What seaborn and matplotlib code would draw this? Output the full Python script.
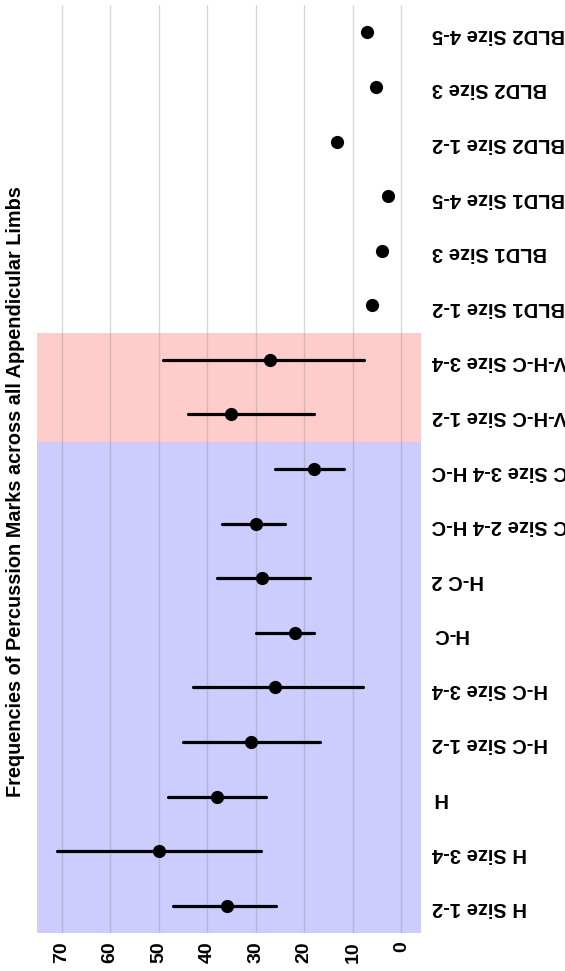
import numpy as np
import pandas as pd
import seaborn as sns
import matplotlib.pyplot as plt

# categories from bottom to top of the chart
categories = ["H Size 1-2", "H Size 3-4", "H", "H-C Size 1-2", "H-C Size 3-4",
              "H-C", "H-C 2", "V-H-C Size 2-4 H-C", "V-H-C Size 3-4 H-C",
              "V-H-C Size 1-2", "V-H-C Size 3-4",
              "BLD1 Size 1-2", "BLD1 Size 3", "BLD1 Size 4-5",
              "BLD2 Size 1-2", "BLD2 Size 3", "BLD2 Size 4-5"]
freq = [36.0, 50.0, 38.0, 31.0, 26.0, 22.0, 28.6, 30.0, 18.0, 35.1, 27.0,
        6.0, 3.9, 2.8, 13.3, 5.2, 7.1]
low = [25.9, 29.0, 27.9, 16.8, 7.9, 17.9, 18.9, 23.9, 11.9, 17.9, 7.6,
       None, None, None, None, None, None]
high = [47.0, 71.0, 48.0, 45.0, 43.0, 30.0, 38.0, 37.0, 26.0, 44.0, 49.0,
        None, None, None, None, None, None]
blue_group = categories[:9]
red_group = categories[9:11]

rows = []
for c, f, lo, hi in zip(categories, freq, low, high):
    rows.append((c, f))
    if lo is not None:
        rows.append((c, lo))
        rows.append((c, hi))
df = pd.DataFrame(rows, columns=["category", "value"])

sns.set_theme(style="whitegrid")
plt.rcParams["font.family"] = ["Liberation Sans", "DejaVu Sans"]
plt.rcParams["font.weight"] = "bold"
for key in ["text.color", "xtick.color", "ytick.color", "axes.labelcolor"]:
    plt.rcParams[key] = "black"

fig = plt.figure(figsize=(5.65, 9.71), dpi=100)
ax = fig.add_axes([0.066, 0.0391, 0.6786, 0.9557])

order = categories[::-1]
sns.pointplot(data=df, x="value", y="category", order=order,
              estimator="median", errorbar=lambda v: (v.min(), v.max()),
              linestyle="none", color="black", markersize=9.5,
              markeredgewidth=0, err_kws={"linewidth": 2.3}, ax=ax, zorder=3)

# shaded groups
n = len(order)
b0 = order.index(blue_group[0]); b1 = order.index(blue_group[-1])
r0 = order.index(red_group[0]); r1 = order.index(red_group[-1])
ax.axhspan(min(b0, b1) - 0.5, max(b0, b1) + 0.5, color="#ccccff", zorder=0, lw=0)
ax.axhspan(min(r0, r1) - 0.5, max(r0, r1) + 0.5, color="#ffcccc", zorder=0, lw=0)

ax.set_xlim(75, -4)
ax.set_ylim(n - 0.5, -0.5)
ax.set_xticks(np.arange(0, 80, 10))
ax.grid(axis="x", color="#808080", alpha=0.3, linewidth=1, zorder=1)
ax.grid(axis="y", visible=False)
ax.set_axisbelow(False)
for s in ax.spines.values():
    s.set_visible(False)

ax.yaxis.tick_right()
ax.tick_params(axis="y", length=0, pad=8, labelsize=14.5, labelcolor="black")
ax.tick_params(axis="x", length=0, pad=6, labelsize=14, labelcolor="black")
for t in ax.get_yticklabels():
    t.set_rotation(180)
    t.set_fontweight("bold")
for t in ax.get_xticklabels():
    t.set_rotation(90)
    t.set_fontweight("bold")

ax.set_xlabel("")
ax.set_ylabel("")
fig.text(0.0274, 0.494,
         "Frequencies of Percussion Marks across all Appendicular Limbs",
         rotation=90, ha="center", va="center", fontsize=14.3,
         fontweight="bold", color="black")

fig.savefig("out.png", dpi=100)
